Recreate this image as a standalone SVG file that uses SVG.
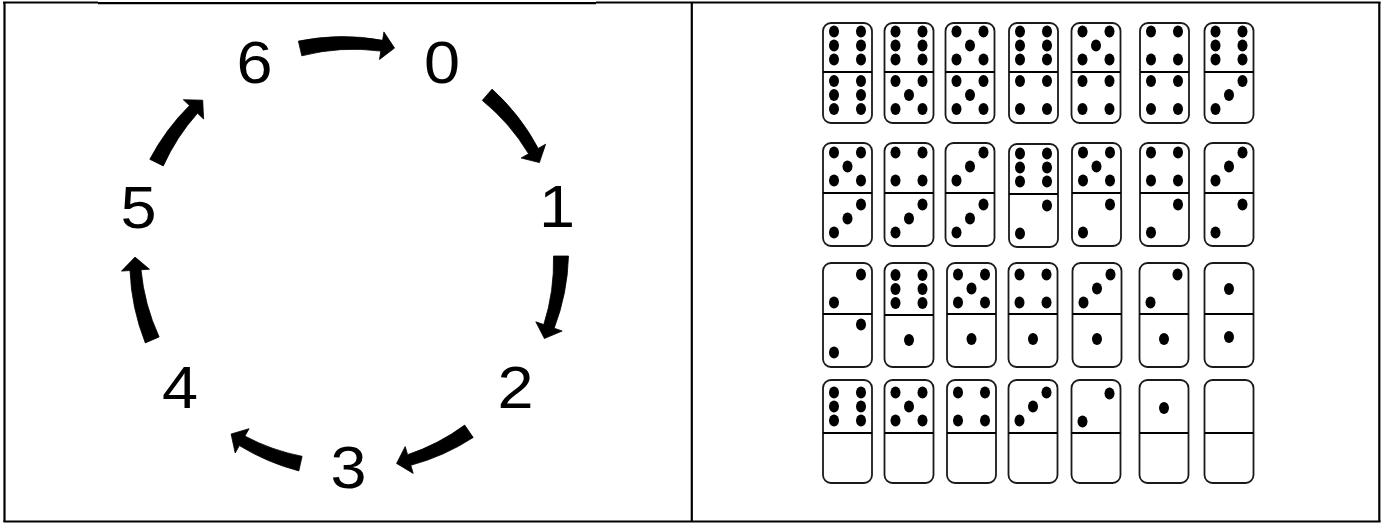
<svg xmlns="http://www.w3.org/2000/svg" xmlns:xlink="http://www.w3.org/1999/xlink" width="1384" height="527" viewBox="0 0 1384 527">
<style>
.frame{fill:none;stroke:#000;stroke-width:2.2}
.digit{font-family:"Liberation Sans",Arial,sans-serif;font-size:60px;fill:#000;text-anchor:middle}
.arrow{fill:#000;stroke:#000;stroke-width:0.8;stroke-linejoin:miter}
.tile{fill:#fff;stroke:#1a1a1a;stroke-width:1.8}
.mid{stroke:#000;stroke-width:2}
.pip{fill:#000}
</style>
<defs>
<ellipse id="pip" class="pip" cx="0" cy="0" rx="5" ry="6"/>
<g id="f1"><use href="#pip" x="0" y="23"/></g>
<g id="f2"><use href="#pip" x="13.5" y="9"/><use href="#pip" x="-13.5" y="37"/></g>
<g id="f3"><use href="#pip" x="13.5" y="9"/><use href="#pip" x="0" y="23"/><use href="#pip" x="-13.5" y="37"/></g>
<g id="f4"><use href="#pip" x="-13.5" y="9"/><use href="#pip" x="13.5" y="9"/><use href="#pip" x="-13.5" y="37"/><use href="#pip" x="13.5" y="37"/></g>
<g id="f5"><use href="#pip" x="-13.5" y="9"/><use href="#pip" x="13.5" y="9"/><use href="#pip" x="0" y="23"/><use href="#pip" x="-13.5" y="37"/><use href="#pip" x="13.5" y="37"/></g>
<g id="f6"><use href="#pip" x="-13.5" y="9"/><use href="#pip" x="13.5" y="9"/><use href="#pip" x="-13.5" y="23"/><use href="#pip" x="13.5" y="23"/><use href="#pip" x="-13.5" y="37"/><use href="#pip" x="13.5" y="37"/></g>
</defs>
<rect width="1384" height="527" fill="#fff"/>
<g id="frame">
<line class="frame" x1="3" y1="2.5" x2="98" y2="2.5" stroke-width="3"/>
<line class="frame" x1="98" y1="3.2" x2="596" y2="3.2" stroke-width="1.6"/>
<line class="frame" x1="596" y1="2.5" x2="1380.5" y2="2.5" stroke-width="2.6"/>
<line class="frame" x1="4.5" y1="2" x2="4.5" y2="522"/>
<line class="frame" x1="1379.3" y1="2" x2="1379.3" y2="522"/>
<line class="frame" x1="3.5" y1="521.5" x2="1380.5" y2="521.5"/>
<line class="frame" x1="691.8" y1="2" x2="691.8" y2="522"/>
</g>
<g id="node-6"><text class="digit" transform="translate(254.5,83) scale(1.08,1)">6</text></g>
<g id="node-0"><text class="digit" transform="translate(442,83) scale(1.08,1)">0</text></g>
<g id="node-1"><text class="digit" transform="translate(557,227) scale(1.08,1)">1</text></g>
<g id="node-2"><text class="digit" transform="translate(515.5,408) scale(1.08,1)">2</text></g>
<g id="node-3"><text class="digit" transform="translate(348.5,488) scale(1.08,1)">3</text></g>
<g id="node-4"><text class="digit" transform="translate(180,408) scale(1.08,1)">4</text></g>
<g id="node-5"><text class="digit" transform="translate(138.5,228) scale(1.08,1)">5</text></g>
<g id="connectors">
<path class="arrow" d="M298.4,41.1 A219.5,219.5 0 0 1 382.6,40.3 L383.9,31.9 L394.5,48.1 L379.5,59.5 L380.8,51.1 A206.5,206.5 0 0 0 301.8,55.8 Z"/>
<path class="arrow" d="M492.1,89.1 A219.5,219.5 0 0 1 538.2,148.4 L545.6,144.2 L539.4,162.6 L521.2,158.0 L528.6,153.8 A206.5,206.5 0 0 0 482.3,100.4 Z"/>
<path class="arrow" d="M568.5,256 A219.5,219.5 0 0 1 554.2,328.2 L562.2,331.0 L544.4,338.5 L535.8,321.8 L543.8,324.6 A206.5,206.5 0 0 0 553.5,256 Z"/>
<path class="arrow" d="M473.2,437.5 A219.5,219.5 0 0 1 410.8,465.3 L413.2,473.4 L396.6,463.4 L405.2,446.6 L407.6,454.7 A206.5,206.5 0 0 0 464.7,425.1 Z"/>
<path class="arrow" d="M298.8,470.9 A219.5,219.5 0 0 1 239.4,445.6 L235.2,453.0 L231.1,434.0 L249.1,428.7 L244.9,436.1 A206.5,206.5 0 0 0 302.1,456.3 Z"/>
<path class="arrow" d="M145.3,342.9 A219.5,219.5 0 0 1 130.0,270.5 L121.5,271.1 L135,257.1 L149.4,269.2 L141.0,269.8 A206.5,206.5 0 0 0 159.1,336.9 Z"/>
<path class="arrow" d="M149.8,159.3 A219.5,219.5 0 0 1 189.5,105.6 L183.3,99.7 L202.7,100.2 L203.6,119.0 L197.5,113.2 A206.5,206.5 0 0 0 163.3,165.9 Z"/>
</g>
<!-- Row 1 -->
<g id="dom-6-6" transform="translate(847.5,23)"><rect class="tile" x="-24.5" y="0" width="49" height="100" rx="8"/><line class="mid" x1="-24.5" y1="49" x2="24.5" y2="49"/><use href="#f6" y="-0.5"/><use href="#f6" y="49"/></g>
<g id="dom-6-5" transform="translate(909,23)"><rect class="tile" x="-24.5" y="0" width="49" height="100" rx="8"/><line class="mid" x1="-24.5" y1="49" x2="24.5" y2="49"/><use href="#f6" y="-0.5"/><use href="#f5" y="49"/></g>
<g id="dom-5-5" transform="translate(970,23)"><rect class="tile" x="-24.5" y="0" width="49" height="100" rx="8"/><line class="mid" x1="-24.5" y1="49" x2="24.5" y2="49"/><use href="#f5" y="-0.5"/><use href="#f5" y="49"/></g>
<g id="dom-6-4" transform="translate(1033.5,23)"><rect class="tile" x="-24.5" y="0" width="49" height="100" rx="8"/><line class="mid" x1="-24.5" y1="49" x2="24.5" y2="49"/><use href="#f6" y="-0.5"/><use href="#f4" y="49"/></g>
<g id="dom-5-4" transform="translate(1096,23)"><rect class="tile" x="-24.5" y="0" width="49" height="100" rx="8"/><line class="mid" x1="-24.5" y1="49" x2="24.5" y2="49"/><use href="#f5" y="-0.5"/><use href="#f4" y="49"/></g>
<g id="dom-4-4" transform="translate(1164.5,23)"><rect class="tile" x="-24.5" y="0" width="49" height="100" rx="8"/><line class="mid" x1="-24.5" y1="49" x2="24.5" y2="49"/><use href="#f4" y="-0.5"/><use href="#f4" y="49"/></g>
<g id="dom-6-3" transform="translate(1229,23)"><rect class="tile" x="-24.5" y="0" width="49" height="100" rx="8"/><line class="mid" x1="-24.5" y1="49" x2="24.5" y2="49"/><use href="#f6" y="-0.5"/><use href="#f3" y="49"/></g>
<!-- Row 2 -->
<g id="dom-5-3" transform="translate(847.5,143)"><rect class="tile" x="-24.5" y="0" width="49" height="103" rx="8"/><line class="mid" x1="-24.5" y1="50" x2="24.5" y2="50"/><use href="#f5" y="0.5"/><use href="#f3" y="52.5"/></g>
<g id="dom-4-3" transform="translate(909,143)"><rect class="tile" x="-24.5" y="0" width="49" height="103" rx="8"/><line class="mid" x1="-24.5" y1="50" x2="24.5" y2="50"/><use href="#f4" y="0.5"/><use href="#f3" y="52.5"/></g>
<g id="dom-3-3" transform="translate(970,143)"><rect class="tile" x="-24.5" y="0" width="49" height="103" rx="8"/><line class="mid" x1="-24.5" y1="50" x2="24.5" y2="50"/><use href="#f3" y="0.5"/><use href="#f3" y="52.5"/></g>
<g id="dom-6-2" transform="translate(1033.5,144)"><rect class="tile" x="-24.5" y="0" width="49" height="103" rx="8"/><line class="mid" x1="-24.5" y1="50" x2="24.5" y2="50"/><use href="#f6" y="0.5"/><use href="#f2" y="52.5"/></g>
<g id="dom-5-2" transform="translate(1096.5,143)"><rect class="tile" x="-24.5" y="0" width="49" height="103" rx="8"/><line class="mid" x1="-24.5" y1="50" x2="24.5" y2="50"/><use href="#f5" y="0.5"/><use href="#f2" y="52.5"/></g>
<g id="dom-4-2" transform="translate(1164.5,143)"><rect class="tile" x="-24.5" y="0" width="49" height="103" rx="8"/><line class="mid" x1="-24.5" y1="50" x2="24.5" y2="50"/><use href="#f4" y="0.5"/><use href="#f2" y="52.5"/></g>
<g id="dom-3-2" transform="translate(1229,143)"><rect class="tile" x="-24.5" y="0" width="49" height="103" rx="8"/><line class="mid" x1="-24.5" y1="50" x2="24.5" y2="50"/><use href="#f3" y="0.5"/><use href="#f2" y="52.5"/></g>
<!-- Row 3 -->
<g id="dom-2-2" transform="translate(847.5,263)"><rect class="tile" x="-24.5" y="0" width="49" height="104" rx="8"/><line class="mid" x1="-24.5" y1="51" x2="24.5" y2="51"/><use href="#f2" y="2.5"/><use href="#f2" y="52.5"/></g>
<g id="dom-6-1" transform="translate(909,263)"><rect class="tile" x="-24.5" y="0" width="49" height="104" rx="8"/><line class="mid" x1="-24.5" y1="52" x2="24.5" y2="52"/><use href="#f6" y="3"/><use href="#f1" y="54"/></g>
<g id="dom-5-1" transform="translate(971.5,263)"><rect class="tile" x="-24.5" y="0" width="49" height="104" rx="8"/><line class="mid" x1="-24.5" y1="51" x2="24.5" y2="51"/><use href="#f5" y="2.5"/><use href="#f1" y="53"/></g>
<g id="dom-4-1" transform="translate(1033,263)"><rect class="tile" x="-24.5" y="0" width="49" height="104" rx="8"/><line class="mid" x1="-24.5" y1="51" x2="24.5" y2="51"/><use href="#f4" y="2.5"/><use href="#f1" y="53"/></g>
<g id="dom-3-1" transform="translate(1097,263)"><rect class="tile" x="-24.5" y="0" width="49" height="104" rx="8"/><line class="mid" x1="-24.5" y1="51" x2="24.5" y2="51"/><use href="#f3" y="2.5"/><use href="#f1" y="53"/></g>
<g id="dom-2-1" transform="translate(1164,263)"><rect class="tile" x="-24.5" y="0" width="49" height="104" rx="8"/><line class="mid" x1="-24.5" y1="51" x2="24.5" y2="51"/><use href="#f2" y="2.5"/><use href="#f1" y="53"/></g>
<g id="dom-1-1" transform="translate(1229,263)"><rect class="tile" x="-24.5" y="0" width="49" height="104" rx="8"/><line class="mid" x1="-24.5" y1="51" x2="24.5" y2="51"/><use href="#f1" y="3"/><use href="#f1" y="51"/></g>
<!-- Row 4 -->
<g id="dom-6-0" transform="translate(847.5,380)"><rect class="tile" x="-24.5" y="0" width="49" height="103" rx="8"/><line class="mid" x1="-24.5" y1="53" x2="24.5" y2="53"/><use href="#f6" y="3.5"/></g>
<g id="dom-5-0" transform="translate(909,380)"><rect class="tile" x="-24.5" y="0" width="49" height="103" rx="8"/><line class="mid" x1="-24.5" y1="53" x2="24.5" y2="53"/><use href="#f5" y="3.5"/></g>
<g id="dom-4-0" transform="translate(971.5,380)"><rect class="tile" x="-24.5" y="0" width="49" height="103" rx="8"/><line class="mid" x1="-24.5" y1="53" x2="24.5" y2="53"/><use href="#f4" y="3.5"/></g>
<g id="dom-3-0" transform="translate(1033,380)"><rect class="tile" x="-24.5" y="0" width="49" height="103" rx="8"/><line class="mid" x1="-24.5" y1="53" x2="24.5" y2="53"/><use href="#f3" y="3.5"/></g>
<g id="dom-2-0" transform="translate(1096,380)"><rect class="tile" x="-24.5" y="0" width="49" height="103" rx="8"/><line class="mid" x1="-24.5" y1="53" x2="24.5" y2="53"/><use href="#f2" y="4.5"/></g>
<g id="dom-1-0" transform="translate(1164,380)"><rect class="tile" x="-24.5" y="0" width="49" height="103" rx="8"/><line class="mid" x1="-24.5" y1="53" x2="24.5" y2="53"/><use href="#f1" y="5"/></g>
<g id="dom-0-0" transform="translate(1229,380)"><rect class="tile" x="-24.5" y="0" width="49" height="103" rx="8"/><line class="mid" x1="-24.5" y1="53" x2="24.5" y2="53"/></g>
</svg>
